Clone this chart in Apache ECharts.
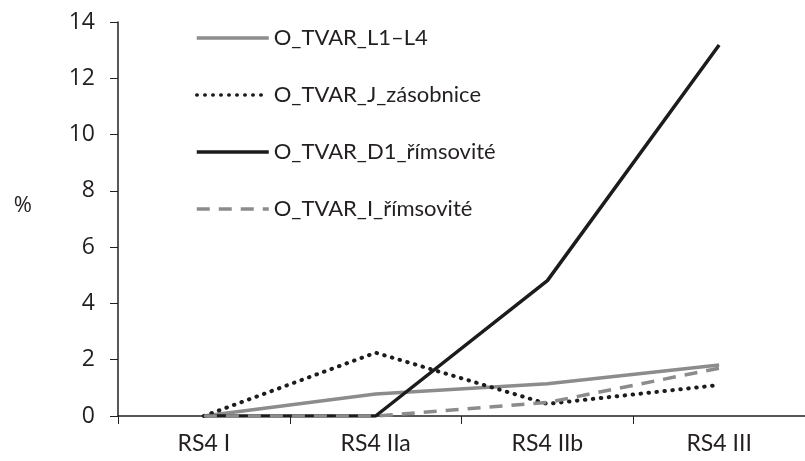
<!DOCTYPE html>
<html>
<head>
<meta charset="utf-8">
<script src="https://cdn.jsdelivr.net/npm/echarts@6/dist/echarts.min.js"></script>
<style>
  html, body { margin: 0; padding: 0; background: #fff; }
  #chart { width: 805px; height: 461px; }
</style>
</head>
<body>
<div id="chart"></div>
<script>
const categories = ['RS4 I', 'RS4 IIa', 'RS4 IIb', 'RS4 III'];
const tvarL1L4 = [0, 0.78, 1.15, 1.81];
const tvarJZasobnice = [0, 2.25, 0.43, 1.1];
const tvarD1Rimsovite = [0, 0, 4.81, 13.18];
const tvarIRimsovite = [0, 0, 0.48, 1.7];
const yTicks = { min: 0, max: 14, interval: 2 };

const textColor = '#231f20';
const gray = '#8c8c8c';
const black = '#1d1b1b';

const commonLine = {
  type: 'line',
  symbol: 'none',
  smooth: false,
  silent: true,
};

const chart = echarts.init(document.getElementById('chart'), null, { renderer: 'canvas' });

chart.setOption({
  animation: false,
  backgroundColor: '#ffffff',
  grid: {
    left: 118,
    top: 22,
    bottom: 45,
    right: -8,
  },
  legend: {
    orient: 'vertical',
    left: 190,
    top: 22,
    itemWidth: 72,
    itemHeight: 22,
    itemGap: 35,
    itemStyle: { opacity: 0 },
    lineStyle: { width: 3.5 },
    textStyle: {
      fontFamily: 'Lato',
      fontSize: 22,
      lineHeight: 22,
      color: textColor,
    },
    data: ['O_TVAR_L1–L4', 'O_TVAR_J_zásobnice', 'O_TVAR_D1_římsovité', 'O_TVAR_I_římsovité'],
  },
  xAxis: {
    type: 'category',
    data: categories,
    boundaryGap: true,
    axisLine: { lineStyle: { color: textColor, width: 1.5 } },
    axisTick: { show: true, length: 8, lineStyle: { color: textColor, width: 1 } },
    axisLabel: {
      fontFamily: 'Lato',
      fontSize: 23,
      color: textColor,
      margin: 16,
    },
  },
  yAxis: {
    type: 'value',
    min: yTicks.min,
    max: yTicks.max,
    interval: yTicks.interval,
    name: '%',
    nameLocation: 'middle',
    nameRotate: 0,
    nameGap: 86,
    nameTextStyle: {
      fontFamily: 'Open Sans',
      fontSize: 22,
      color: textColor,
      verticalAlign: 'bottom',
      padding: [0, 0, 2, 0],
    },
    axisLine: { show: true, lineStyle: { color: textColor, width: 1.5 } },
    axisTick: { show: true, length: 8, lineStyle: { color: textColor, width: 1 } },
    splitLine: { show: false },
    axisLabel: {
      fontFamily: 'Open Sans',
      fontSize: 23,
      color: textColor,
      margin: 23,
    },
  },
  series: [
    {
      name: 'O_TVAR_L1–L4',
      data: tvarL1L4,
      itemStyle: { color: gray },
      lineStyle: { color: gray, width: 3.5, type: 'solid' },
      z: 2,
      ...commonLine,
    },
    {
      name: 'O_TVAR_J_zásobnice',
      data: tvarJZasobnice,
      itemStyle: { color: black },
      lineStyle: { color: black, width: 4, type: [0.5, 7.5], cap: 'round' },
      z: 3,
      ...commonLine,
    },
    {
      name: 'O_TVAR_D1_římsovité',
      data: tvarD1Rimsovite,
      itemStyle: { color: black },
      lineStyle: { color: black, width: 3.5, type: 'solid' },
      z: 4,
      ...commonLine,
    },
    {
      name: 'O_TVAR_I_římsovité',
      data: tvarIRimsovite,
      itemStyle: { color: gray },
      lineStyle: { color: gray, width: 3.5, type: [13, 9] },
      z: 5,
      ...commonLine,
    },
  ],
});
</script>
</body>
</html>
